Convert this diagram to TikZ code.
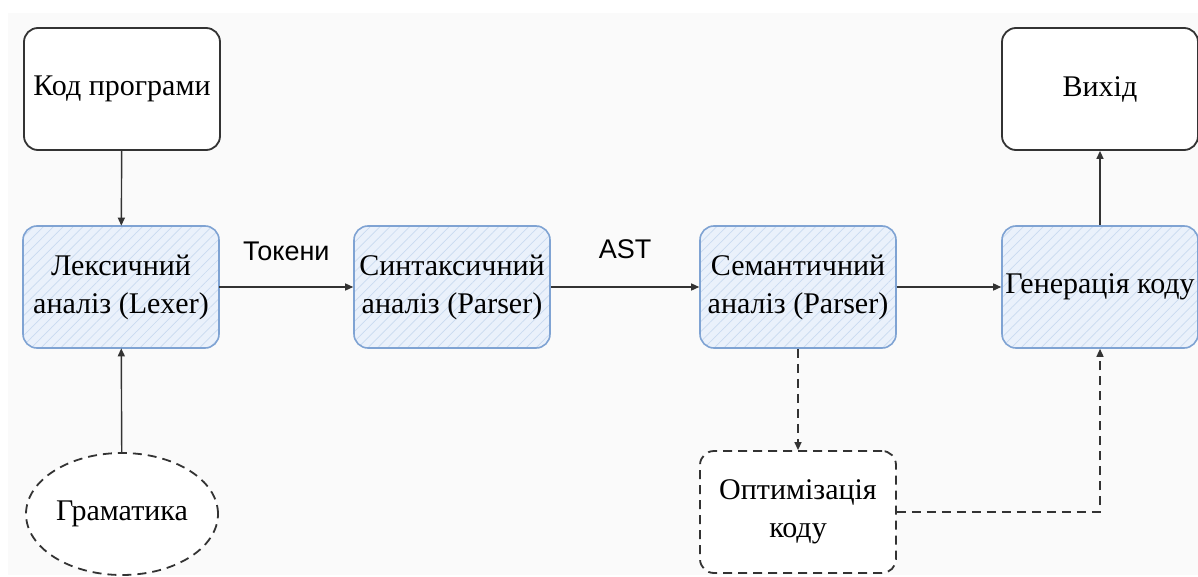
\documentclass[tikz,border=0pt]{standalone}
\usepackage{fontspec}
\setmainfont{Liberation Serif}
\setsansfont{Liberation Sans}
\usetikzlibrary{shapes.geometric,arrows.meta,patterns.meta}
\definecolor{bgc}{HTML}{FAFAFA}
\definecolor{inkc}{HTML}{333333}
\definecolor{blueedge}{HTML}{7FA3D3}
\definecolor{bluefill}{HTML}{EAF1FB}
\definecolor{bluehatch}{HTML}{C9DAF0}
\tikzset{
  base/.style={minimum width=196pt, minimum height=122pt, align=center,
    font=\fontsize{30}{38}\selectfont, text=black, inner sep=1pt},
  plainbox/.style={base, draw=inkc, line width=1.8pt, rounded corners=14pt, fill=white},
  stagebox/.style={base, draw=blueedge, line width=1.6pt, rounded corners=14pt,
    preaction={fill=bluefill},
    pattern={Lines[angle=45,distance=7pt,line width=0.7pt]}, pattern color=bluehatch},
  optbox/.style={base, draw=inkc, line width=1.8pt, dash pattern=on 9pt off 6pt,
    rounded corners=14pt, fill=white},
  gramnode/.style={base, ellipse, minimum width=192pt, minimum height=122pt,
    draw=inkc, line width=1.8pt, dash pattern=on 9pt off 6pt, fill=white},
  flow/.style={draw=inkc, line width=1.4pt, -{Triangle[length=8pt,width=7pt]}},
  dflow/.style={flow, dash pattern=on 9pt off 6pt},
  lbl/.style={font=\sffamily\fontsize{27}{32}\selectfont, text=black}
}
\begin{document}
\begin{tikzpicture}[x=1pt,y=-1pt]
\useasboundingbox (0,0) rectangle (1198,577);
\fill[bgc] (8,13) rectangle (1198,575);

% pipeline stages
\node[plainbox] (src)  at (122,89)  {Код програми};
\node[stagebox] (lex)  at (121,287) {Лексичний\\аналіз (Lexer)};
\node[stagebox] (syn)  at (452,287) {Синтаксичний\\аналіз (Parser)};
\node[stagebox] (sem)  at (798,287) {Семантичний\\аналіз (Parser)};
\node[stagebox] (gen)  at (1100,287) {Генерація коду};
\node[plainbox] (out)  at (1100,89) {Вихід};
\node[optbox]   (opt)  at (798,512) {Оптимізація\\коду};
\node[gramnode] (gram) at (122,514) {Граматика};

% connectors
\draw[flow] (src) -- (lex);
\draw[flow] (gram) -- (lex);
\draw[flow] (lex) -- node[lbl, above=22pt] (tok) {Токени} (syn);
\draw[flow] (syn) -- node[lbl, above=24pt] (ast) {AST} (sem);
\draw[flow] (sem) -- (gen);
\draw[flow] (gen) -- (out);
\draw[dflow] (sem) -- (opt);
\draw[dflow] (opt.east) -| (gen.south);
\end{tikzpicture}
\end{document}
